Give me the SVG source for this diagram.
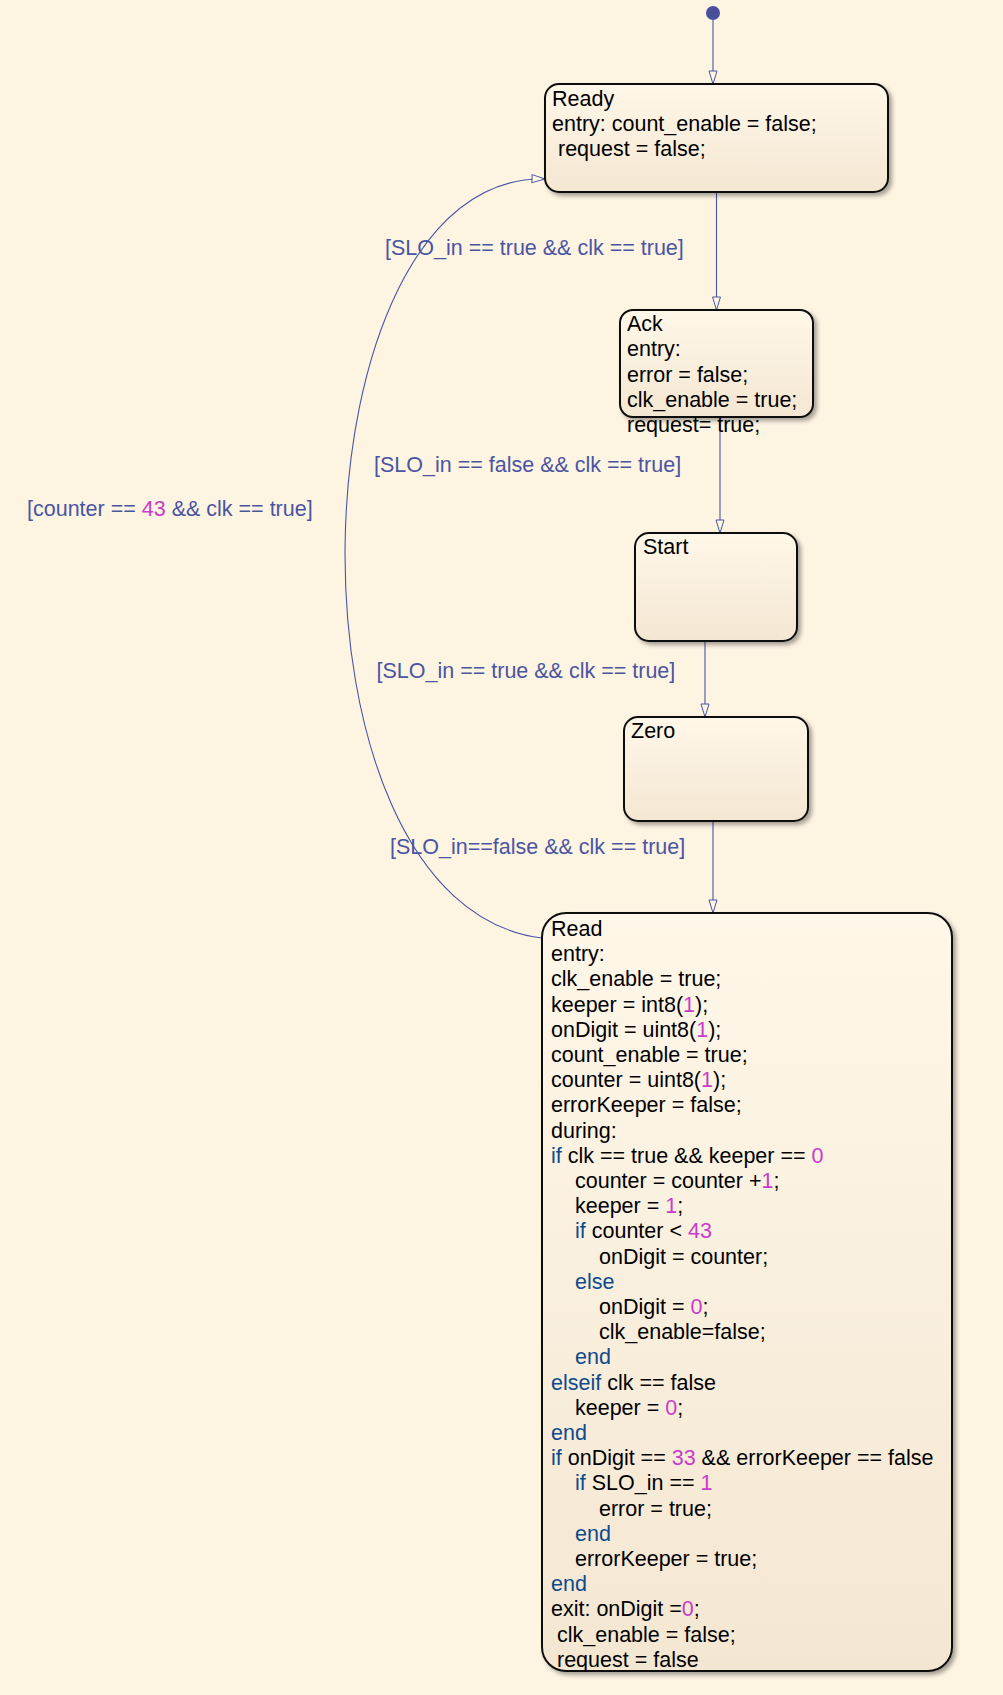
<svg xmlns="http://www.w3.org/2000/svg" width="1003" height="1695" viewBox="0 0 1003 1695">
<style>
text{font-family:"Liberation Sans",Arial,sans-serif;font-size:21.5px;fill:#000}
.lbl{fill:#4a55a2}
.kw{fill:#0f4a8c}
.num{fill:#c83cc8}
.box{stroke:#111;stroke-width:2;fill:url(#g);filter:url(#sh)}
.edge{fill:none;stroke:#4a55a6;stroke-width:1.1;marker-end:url(#arr)}
</style>
<defs>
<linearGradient id="g" x1="0" y1="0" x2="0" y2="1">
<stop offset="0" stop-color="#fff7e9"/>
<stop offset="1" stop-color="#f4e7d2"/>
</linearGradient>
<filter id="sh" x="-5%" y="-5%" width="115%" height="115%">
<feDropShadow dx="3" dy="3" stdDeviation="2" flood-color="#000" flood-opacity="0.35"/>
</filter>
<marker id="arr" markerUnits="userSpaceOnUse" markerWidth="15" markerHeight="10" refX="13" refY="4" orient="auto" viewBox="-1 -1 15 10">
<path d="M0,0 L13,4 L0,8 z" fill="#fef4e2" stroke="#4a55a6" stroke-width="1"/>
</marker>
</defs>
<rect x="0" y="0" width="1003" height="1695" fill="#fef4e2"/>

<g id="connectors">
<circle cx="713" cy="13" r="7" fill="#4a4f9c"/>
<line class="edge" x1="713" y1="19" x2="713" y2="84"/>
<line class="edge" x1="716.5" y1="192" x2="716.5" y2="310"/>
<line class="edge" x1="720" y1="417" x2="720" y2="533"/>
<line class="edge" x1="705" y1="641" x2="705" y2="717"/>
<line class="edge" x1="713" y1="821" x2="713" y2="913"/>
<path class="edge" d="M542,938 C270,905 288,172 545,179"/>
<text class="lbl" x="385" y="255">[SLO_in == true &amp;&amp; clk == true]</text>
<text class="lbl" x="374" y="472">[SLO_in == false &amp;&amp; clk == true]</text>
<text class="lbl" x="27" y="516">[counter == <tspan class="num">43</tspan> &amp;&amp; clk == true]</text>
<text class="lbl" x="376.5" y="678">[SLO_in == true &amp;&amp; clk == true]</text>
<text class="lbl" x="390" y="854">[SLO_in==false &amp;&amp; clk == true]</text>
</g>

<g id="Ready">
<rect class="box" x="545" y="84" width="343" height="108" rx="14"/>
<text x="552" y="106">Ready</text>
<text x="552" y="131">entry: count_enable = false;</text>
<text x="558" y="156">request = false;</text>
</g>

<g id="Ack">
<rect class="box" x="620" y="310" width="193" height="107" rx="13"/>
<text x="627" y="331">Ack</text>
<text x="627" y="356">entry:</text>
<text x="627" y="381.5">error = false;</text>
<text x="627" y="406.5">clk_enable = true;</text>
<text x="627" y="431.5">request= true;</text>
</g>

<g id="Start">
<rect class="box" x="635" y="533" width="162" height="108" rx="14"/>
<text x="643" y="554">Start</text>
</g>

<g id="Zero">
<rect class="box" x="624" y="717" width="184" height="104" rx="14"/>
<text x="631" y="738">Zero</text>
</g>

<g id="Read">
<rect class="box" x="542" y="913" width="410" height="758" rx="24"/>
<text x="551" y="936">Read</text>
<text x="551" y="961.2">entry:</text>
<text x="551" y="986.4">clk_enable = true;</text>
<text x="551" y="1011.6">keeper = int8(<tspan class="num">1</tspan>);</text>
<text x="551" y="1036.8">onDigit = uint8(<tspan class="num">1</tspan>);</text>
<text x="551" y="1062">count_enable = true;</text>
<text x="551" y="1087.2">counter = uint8(<tspan class="num">1</tspan>);</text>
<text x="551" y="1112.4">errorKeeper = false;</text>
<text x="551" y="1137.6">during:</text>
<text x="551" y="1162.8"><tspan class="kw">if</tspan> clk == true &amp;&amp; keeper == <tspan class="num">0</tspan></text>
<text x="575" y="1188">counter = counter +<tspan class="num">1</tspan>;</text>
<text x="575" y="1213.2">keeper = <tspan class="num">1</tspan>;</text>
<text x="575" y="1238.4"><tspan class="kw">if</tspan> counter &lt; <tspan class="num">43</tspan></text>
<text x="599" y="1263.6">onDigit = counter;</text>
<text x="575" y="1288.8" class="kw">else</text>
<text x="599" y="1314">onDigit = <tspan class="num">0</tspan>;</text>
<text x="599" y="1339.2">clk_enable=false;</text>
<text x="575" y="1364.4" class="kw">end</text>
<text x="551" y="1389.6"><tspan class="kw">elseif</tspan> clk == false</text>
<text x="575" y="1414.8">keeper = <tspan class="num">0</tspan>;</text>
<text x="551" y="1440" class="kw">end</text>
<text x="551" y="1465.2"><tspan class="kw">if</tspan> onDigit == <tspan class="num">33</tspan> &amp;&amp; errorKeeper == false</text>
<text x="575" y="1490.4"><tspan class="kw">if</tspan> SLO_in == <tspan class="num">1</tspan></text>
<text x="599" y="1515.6">error = true;</text>
<text x="575" y="1540.8" class="kw">end</text>
<text x="575" y="1566">errorKeeper = true;</text>
<text x="551" y="1591.2" class="kw">end</text>
<text x="551" y="1616.4">exit: onDigit =<tspan class="num">0</tspan>;</text>
<text x="557" y="1641.6">clk_enable = false;</text>
<text x="557" y="1666.8">request = false</text>
</g>
</svg>
